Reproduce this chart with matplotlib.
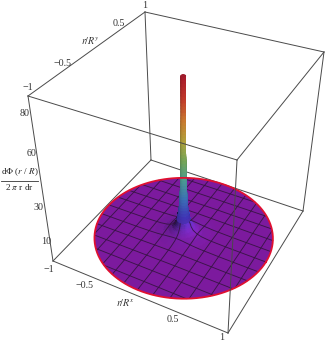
"""Radial density spike on a disc, Mathematica style 3D box"""
import numpy as np
import matplotlib
matplotlib.use("Agg")
import matplotlib.pyplot as plt
from matplotlib.collections import PolyCollection
from matplotlib.colors import LinearSegmentedColormap

# radial profile (height above the disc)
profile_r = [0.0, 0.02, 0.021, 0.024, 0.03, 0.04, 0.052, 0.07, 0.09, 0.115, 0.16, 0.21, 0.3, 0.45, 0.7, 0.96]
profile_z = [89.0, 89.0, 70.0, 50.0, 32.0, 20.0, 13.0, 8.5, 5.5, 3.5, 2.0, 1.2, 0.6, 0.3, 0.1, 0.0]

mesh_lines = [-0.8333, -0.6667, -0.5, -0.3333, -0.1667, 0.0, 0.1667, 0.3333, 0.5, 0.6667, 0.8333]
rainbow = ["#7c1a9e", "#3f34b4", "#3c70b4", "#4a9a90", "#74a458", "#b0a03c", "#c87a30", "#c03a2a", "#a81c2c"]
disc_radius = 0.96
disc_lift = 1.6
z_peak = 89.0

# box corners: world (x, y, z) and where they sit in the picture
z_top = 92.0
corner_world = [(-1, -1, 0), (1, -1, 0), (1, 1, 0), (-1, 1, 0),
                (-1, -1, z_top), (1, -1, z_top), (1, 1, z_top), (-1, 1, z_top)]
corner_px = [(53, 261), (228, 333), (303, 211), (151, 160),
             (28, 96), (237, 160), (324, 52), (145, 12)]

# fit the camera from the corners
rows = []
for (wx, wy, wz), (px, py) in zip(corner_world, corner_px):
    w = [wx, wy, wz / z_top, 1.0]
    rows.append(w + [0, 0, 0, 0] + [-px * v for v in w])
    rows.append([0, 0, 0, 0] + w + [-py * v for v in w])
camera = np.linalg.svd(np.array(rows))[2][-1].reshape(3, 4)


def project(x, y, z):
    x, y, z = np.asarray(x, float), np.asarray(y, float), np.asarray(z, float)
    w = np.stack([x, y, z / z_top, np.ones_like(x)])
    u = camera @ w.reshape(4, -1)
    return (u[0] / u[2]).reshape(x.shape), (u[1] / u[2]).reshape(x.shape)


def height(r):
    return np.interp(r, profile_r, profile_z)


plt.rcParams["font.family"] = ["Liberation Serif", "DejaVu Serif"]
fig = plt.figure(figsize=(3.25, 3.46), dpi=100)
ax = fig.add_axes([0, 0, 1, 1])
ax.set_xlim(0, 325)
ax.set_ylim(346, 0)
ax.axis("off")

edge_color = "#4a4a4a"

# everything behind the surface
for a, b in [(3, 0), (3, 2), (3, 7)]:
    ax.plot([corner_px[a][0], corner_px[b][0]], [corner_px[a][1], corner_px[b][1]],
            color=edge_color, lw=0.7, zorder=1)

cmap = LinearSegmentedColormap.from_list("rain", rainbow)
thetas = np.linspace(0, 2 * np.pi, 121)
light = np.array([0.75, -0.1, 0.65])
flat = light[2] / np.linalg.norm(light)


def band_patches(ring_r, ring_z, wall=False):
    # quads between consecutive rings, lit from the right and sorted back to front
    polys, cols, depth = [], [], []
    xs = np.outer(np.cos(thetas), ring_r)
    ys = np.outer(np.sin(thetas), ring_r)
    zs = np.outer(np.ones_like(thetas), ring_z)
    px, py = project(xs, ys, zs + disc_lift)
    _, floor_y = project(xs, ys, np.zeros_like(xs))
    for i in range(len(thetas) - 1):
        t_mid = (thetas[i] + thetas[i + 1]) / 2
        for j in range(len(ring_r) - 1):
            polys.append([(px[i, j], py[i, j]), (px[i + 1, j], py[i + 1, j]),
                          (px[i + 1, j + 1], py[i + 1, j + 1]), (px[i, j + 1], py[i, j + 1])])
            if wall:
                shade = 0.88 + 0.14 * np.cos(t_mid + 0.6)
            else:
                slope = -(ring_z[j + 1] - ring_z[j]) / (ring_r[j + 1] - ring_r[j] + 1e-6) / 92
                n = np.array([slope * np.cos(t_mid), slope * np.sin(t_mid), 1.0])
                n /= np.linalg.norm(n)
                dot = (n @ light) / np.linalg.norm(light)
                shade = np.clip(0.45 + 0.55 * dot / flat, 0.35, 1.2)
            z_mid = (ring_z[j] + ring_z[j + 1]) / 2
            cols.append(np.clip(np.array(cmap(z_mid / z_peak)[:3]) * shade, 0, 1))
            depth.append(floor_y[i, j])
    order = np.argsort(depth)
    return [polys[k] for k in order], [cols[k] for k in order]


# flat purple disc, then the foot of the peak on top of it
rim_x, rim_y = project(disc_radius * np.cos(thetas), disc_radius * np.sin(thetas),
                       np.full_like(thetas, disc_lift))
ax.fill(rim_x, rim_y, color=rainbow[0], lw=0, zorder=1.5)
foot_r = np.linspace(0.05, 0.34, 34)
polys, cols = band_patches(foot_r, height(foot_r))
ax.add_collection(PolyCollection(polys, facecolors=cols, edgecolors="face", linewidths=0.4,
                                 antialiased=False, zorder=2))

# mesh lines, left off where the surface climbs steeply
line_t = np.linspace(-1, 1, 601)
for m in mesh_lines:
    keep = np.abs(line_t) <= np.sqrt(disc_radius ** 2 - m ** 2)
    t = line_t[keep]
    r = np.hypot(t, m)
    zl = height(r) + disc_lift
    zl[r < 0.05] = np.nan
    for lx, ly in (project(t, np.full_like(t, m), zl), project(np.full_like(t, m), t, zl)):
        ax.plot(lx, ly, color="#34143f", lw=0.65, alpha=0.9, zorder=3)

# the spike itself goes over the mesh
spike_z = np.linspace(8.5, z_peak, 50)
spike_r = np.interp(spike_z, profile_z[7:1:-1] + [profile_z[1]], profile_r[7:1:-1] + [profile_r[1]])
polys, cols = band_patches(spike_r, spike_z, wall=True)
ax.add_collection(PolyCollection(polys, facecolors=cols, edgecolors="face", linewidths=0.25, zorder=3.2))
cap_x, cap_y = project(profile_r[1] * np.cos(thetas), profile_r[1] * np.sin(thetas),
                       np.full_like(thetas, z_peak + disc_lift))
ax.fill(cap_x, cap_y, color="#a01c2c", zorder=3.3)

ax.plot(rim_x, rim_y, color="#e01030", lw=1.3, zorder=3.5)

# edges in front of the surface
for a, b in [(0, 1), (1, 2), (0, 4), (1, 5), (2, 6), (4, 5), (5, 6), (6, 7), (7, 4)]:
    ax.plot([corner_px[a][0], corner_px[b][0]], [corner_px[a][1], corner_px[b][1]],
            color=edge_color, lw=0.7, zorder=5)

# tick labels
tick_color = "#333333"
fs = 7.2
for s, x, y in [("1", 145, 6), ("0.5", 119, 24), ("\u22120.5", 62, 64), ("\u22121", 28, 88),
                ("80", 25, 114), ("60", 32, 154), ("30", 39, 208), ("10", 46, 241),
                ("\u22121", 49, 269), ("\u22120.5", 85, 285), ("0.5", 173, 320), ("1", 222, 338)]:
    ax.text(x, y, s, ha="center", va="center", fontsize=fs, color=tick_color, zorder=6)
ax.text(90, 41, r"$r/R^y$", ha="center", va="center", fontsize=fs, color=tick_color,
        math_fontfamily="stix", zorder=6)
ax.text(126, 303, r"$r/R^x$", ha="center", va="center", fontsize=fs, color=tick_color,
        math_fontfamily="stix", zorder=6)
ax.text(20, 172, r"d$\Phi$ ($r$ / $R$)", ha="center", va="center", fontsize=6.6, color="#222222",
        math_fontfamily="stix", zorder=6)
ax.plot([1, 38], [180.5, 180.5], color="#333333", lw=0.6, zorder=6)
ax.text(19, 187, r"2 $\pi$ r dr", ha="center", va="center", fontsize=6.6, color="#222222",
        math_fontfamily="stix", zorder=6)

fig.savefig("out.png", dpi=100, facecolor="white")
